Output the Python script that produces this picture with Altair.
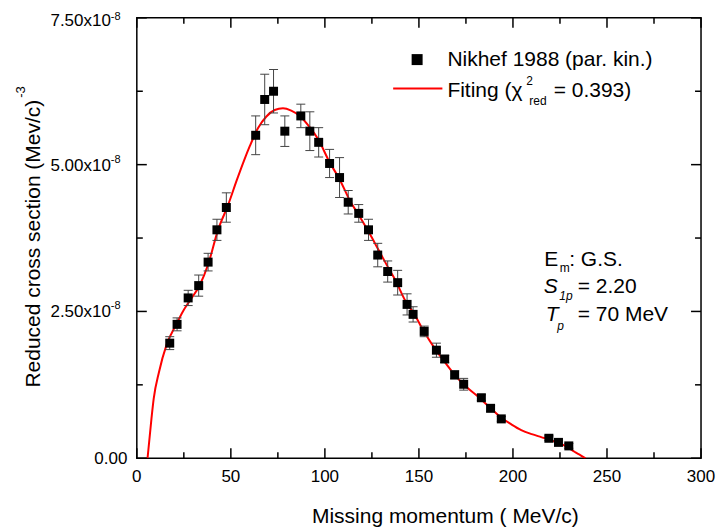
import altair as alt
import pandas as pd

# ---------------- data (y in units of 1e-8 (MeV/c)^-3) ----------------
p_miss = [17.5, 21.4, 27.3, 32.9, 37.9, 42.6, 47.6, 63.2, 68.0, 72.7, 78.7, 87.2,
          92.0, 96.7, 102.5, 107.8, 112.4, 118.0, 123.2, 128.1, 133.4, 138.7,
          143.7, 146.9, 152.8, 159.3, 163.7, 169.0, 173.8, 183.2, 188.1, 193.8,
          219.1, 224.2, 229.7]
sigma_red = [1.96, 2.28, 2.73, 2.94, 3.34, 3.89, 4.27, 5.50, 6.11, 6.25, 5.57, 5.83,
             5.57, 5.38, 5.02, 4.78, 4.36, 4.17, 3.89, 3.46, 3.18, 2.99,
             2.62, 2.45, 2.16, 1.84, 1.69, 1.42, 1.26, 1.03, 0.85, 0.67,
             0.34, 0.27, 0.21]
sigma_err = [0.11, 0.11, 0.13, 0.18, 0.15, 0.18, 0.25, 0.33, 0.43, 0.37, 0.26, 0.20,
             0.33, 0.25, 0.24, 0.34, 0.20, 0.15, 0.18, 0.20, 0.18, 0.21,
             0.18, 0.13, 0.09, 0.12, 0.06, 0.07, 0.10, 0.05, 0.05, 0.04,
             0.04, 0.04, 0.04]

fit_p = [5.7, 7.8, 9.0, 11.8, 15.8, 21.0, 24.5, 28.1, 33.5, 37.9, 43.2, 48.5, 53.2,
         57.0, 60.0, 64.4, 68.9, 73.3, 77.7, 82.1, 86.6, 91.9, 96.3, 102.5, 108.0,
         113.1, 118.4, 123.7, 129.0, 134.3, 137.2, 142.3, 147.8, 153.0, 158.4,
         163.7, 169.0, 175.0, 181.4, 187.5, 193.8, 199.0, 204.4, 210.0, 215.0,
         220.0, 225.0, 229.0, 232.7, 236.0, 238.6]
fit_sigma = [0.0, 0.68, 1.02, 1.47, 1.93, 2.28, 2.50, 2.68, 2.95, 3.30, 3.89, 4.31, 4.74,
             5.07, 5.31, 5.62, 5.82, 5.93, 5.96, 5.92, 5.83, 5.64, 5.44, 5.04, 4.74,
             4.40, 4.12, 3.83, 3.52, 3.21, 3.05, 2.71, 2.44, 2.14, 1.87,
             1.64, 1.42, 1.22, 1.05, 0.87, 0.69, 0.58, 0.48, 0.41, 0.36,
             0.31, 0.25, 0.19, 0.11, 0.05, 0.0]

x_major = [0, 50, 100, 150, 200, 250, 300]
x_minor = [25, 75, 125, 175, 225, 275]
y_major = [0, 2.5, 5.0, 7.5]
y_minor = [1.25, 3.75, 6.25]
y_exp_vals = [2.5, 5.0, 7.5]
y_exp_text = ["2.50x10", "5.00x10", "7.50x10"]
y_exp_sup = ["-8", "-8", "-8"]

FONT = "Liberation Sans"
W, H = 565, 441

xs = alt.Scale(domain=[0, 300], nice=False, zero=False)
ys = alt.Scale(domain=[0, 7.5], nice=False, zero=False)

pts = pd.DataFrame({"p": p_miss, "s": sigma_red, "e": sigma_err})
fit = pd.DataFrame({"p": fit_p, "s": fit_sigma})

X = lambda f: alt.X(f, type="quantitative", scale=xs, axis=None)
Y = lambda f: alt.Y(f, type="quantitative", scale=ys, axis=None)

base = alt.Chart(pts).transform_calculate(
    lo="datum.s - datum.e", hi="datum.s + datum.e")

err_rule = base.mark_rule(color="#444444", strokeWidth=1).encode(
    x=X("p"), y=Y("lo"), y2="hi:Q")
cap_lo = base.mark_tick(orient="horizontal", size=9, thickness=1, color="#444444", opacity=1).encode(
    x=X("p"), y=Y("lo"))
cap_hi = base.mark_tick(orient="horizontal", size=9, thickness=1, color="#444444", opacity=1).encode(
    x=X("p"), y=Y("hi"))
squares = alt.Chart(pts).mark_point(shape="square", filled=True, size=81, color="black", opacity=1).encode(
    x=X("p"), y=Y("s"))
line = alt.Chart(fit).mark_line(color="#ff0000", strokeWidth=2, interpolate="monotone", clip=True).encode(
    x=X("p"), y=Y("s"), order="p:Q")

dxmaj = pd.DataFrame({"v": x_major})
dxmin = pd.DataFrame({"v": x_minor})
dymaj = pd.DataFrame({"v": y_major})
dymin = pd.DataFrame({"v": y_minor})

def xt(df, y0, y1):
    return alt.Chart(df).mark_rule(color="black", strokeWidth=1.5).encode(
        x=X("v"), y=alt.value(y0), y2=alt.value(y1))

def yt(df, x0, x1):
    return alt.Chart(df).mark_rule(color="black", strokeWidth=1.5).encode(
        y=Y("v"), x=alt.value(x0), x2=alt.value(x1))

ticks = [xt(dxmaj, H, H - 10), xt(dxmin, H, H - 6), xt(dxmaj, 0, 10), xt(dxmin, 0, 6),
         yt(dymaj, 0, 10), yt(dymin, 0, 6), yt(dymaj, W, W - 10), yt(dymin, W, W - 6)]

xlabels = alt.Chart(dxmaj).mark_text(font=FONT, fontSize=17, baseline="alphabetic", align="center", color="black").encode(
    x=X("v"), y=alt.value(H + 24), text=alt.Text("v:Q", format="d"))

ylab_zero = alt.Chart(pd.DataFrame({"v": [0.0], "t": ["0.00"]})).mark_text(
    font=FONT, fontSize=17, baseline="middle", align="right", color="black", dy=1).encode(
    x=alt.value(-9.5), y=Y("v"), text="t:N")
dyexp = pd.DataFrame({"v": y_exp_vals, "t": y_exp_text, "s": y_exp_sup})


def ylab(filt, dy_main, dy_sup):
    b = alt.Chart(dyexp).transform_filter(filt)
    m = b.mark_text(font=FONT, fontSize=17, baseline="middle", align="right",
                    color="black", dy=dy_main).encode(x=alt.value(-26), y=Y("v"), text="t:N")
    s = b.mark_text(font=FONT, fontSize=11, baseline="middle", align="left",
                    color="black", dy=dy_sup).encode(x=alt.value(-26), y=Y("v"), text="s:N")
    return [m, s]

ylabels = ylab("datum.v < 7", 1, -5) + ylab("datum.v >= 7", 3.5, -1)


def label(txt, x, y, size=21, align="left", angle=0, italic=False, baseline="alphabetic"):
    return alt.Chart(pd.DataFrame({"t": [txt]})).mark_text(
        font=FONT, fontSize=size, align=align, baseline=baseline, angle=angle,
        fontStyle="italic" if italic else "normal", color="black").encode(
        x=alt.value(x), y=alt.value(y), text="t:N")

texts = [
    label("Missing momentum ( MeV/c)", 309, 505.5, align="center"),
    label("Reduced cross section (Mev/c)", -96.5, 82, align="right", angle=270),
    label("-3", -112, 80, size=13, align="left", angle=270),
    # legend
    label("Nikhef 1988 (par. kin.)", 311, 48.5),
    label("Fiting (\u03c7", 311, 79),
    label("2", 390, 67.5, size=12),
    label("red", 393, 87.5, size=12),
    label("= 0.393)", 417.5, 79),
    # annotation
    label("E", 408, 248.5),
    label("m", 423.5, 255, size=12),
    label(": G.S.", 433, 248.5),
    label("S", 407.5, 275.5, italic=True),
    label("1p", 423, 282.5, size=12, italic=True),
    label("= 2.20", 441.5, 275.5),
    label("T", 409.5, 304, italic=True),
    label("p", 421, 313, size=12, italic=True),
    label("= 70 MeV", 441.5, 304),
]

leg_sq = alt.Chart(pd.DataFrame({"a": [0]})).mark_point(
    shape="square", filled=True, size=121, color="black", opacity=1).encode(
    x=alt.value(280.7), y=alt.value(41.8))
leg_line = alt.Chart(pd.DataFrame({"a": [0]})).mark_rule(color="#ff0000", strokeWidth=2).encode(
    x=alt.value(256.7), x2=alt.value(306), y=alt.value(70.8))

chart = alt.layer(
    line, err_rule, cap_lo, cap_hi, squares, *ticks, xlabels, ylab_zero, *ylabels,
    leg_sq, leg_line, *texts
).properties(
    width=W, height=H,
    autosize=alt.AutoSizeParams(type="none"),
    padding={"left": 129, "top": 9.5, "right": 15, "bottom": 69},
    background="white",
).configure_view(stroke="black", strokeWidth=1.5)

chart.save("out.html", embed_options={"renderer": "svg", "actions": False})
